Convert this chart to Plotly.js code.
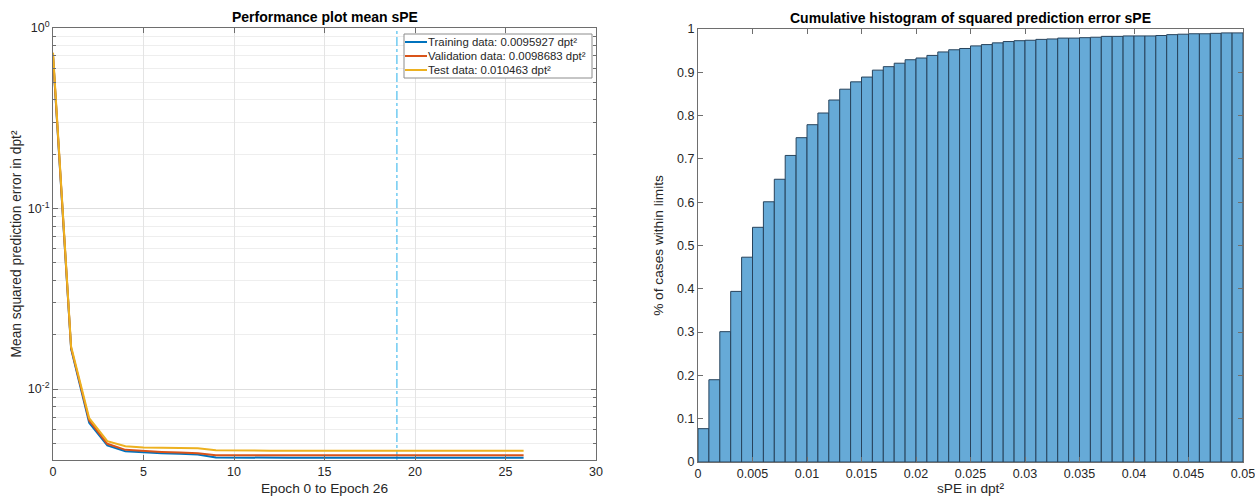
<!DOCTYPE html>
<html>
<head>
<meta charset="utf-8">
<script src="https://cdn.plot.ly/plotly-3.0.1.min.js"></script>
<style>html,body{margin:0;padding:0;background:#fff;}#chart{width:1255px;height:498px;}</style>
</head>
<body>
<div id="chart"></div>
<script>
// ---- Left panel data: performance per epoch ----
const epochs = [0,1,2,3,4,5,6,7,8,9,10,11,12,13,14,15,16,17,18,19,20,21,22,23,24,25,26];
const trainPerf = [0.70,0.0167,0.0065,0.00488,0.00453,0.00446,0.00442,0.00438,0.00434,0.00418,0.00417,0.00417,0.00417,0.00417,0.00417,0.00417,0.00417,0.00417,0.00417,0.00417,0.00417,0.00417,0.00417,0.00417,0.00417,0.00417,0.00417];
const valPerf = [0.71,0.0169,0.0067,0.00498,0.00461,0.00453,0.00449,0.00445,0.00441,0.00430,0.00430,0.00430,0.00430,0.00430,0.00430,0.00430,0.00430,0.00430,0.00430,0.00430,0.00430,0.00430,0.00430,0.00430,0.00430,0.00430,0.00430];
const testPerf = [0.73,0.0172,0.0069,0.00515,0.00483,0.00475,0.00473,0.00471,0.00470,0.00458,0.00456,0.00456,0.00456,0.00456,0.00456,0.00456,0.00456,0.00456,0.00456,0.00456,0.00456,0.00456,0.00456,0.00456,0.00456,0.00456,0.00456];
const seriesNames = ['Training data: 0.0095927 dpt²','Validation data: 0.0098683 dpt²','Test data: 0.010463 dpt²'];
const bestEpoch = 19;
const yTickVals = [1,0.1,0.01];
const yTickText = ['10<sup>0</sup>','10<sup>-1</sup>','10<sup>-2</sup>'];

// ---- Right panel data: cumulative histogram ----
const binStarts = [0,0.001,0.002,0.003,0.004,0.005,0.006,0.007,0.008,0.009,0.010,0.011,0.012,0.013,0.014,0.015,0.016,0.017,0.018,0.019,0.020,0.021,0.022,0.023,0.024,0.025,0.026,0.027,0.028,0.029,0.030,0.031,0.032,0.033,0.034,0.035,0.036,0.037,0.038,0.039,0.040,0.041,0.042,0.043,0.044,0.045,0.046,0.047,0.048,0.049];
const cumFrac = [0.077,0.190,0.301,0.394,0.473,0.542,0.601,0.653,0.708,0.749,0.779,0.806,0.836,0.861,0.878,0.889,0.905,0.913,0.921,0.929,0.933,0.939,0.947,0.952,0.955,0.961,0.964,0.968,0.971,0.973,0.974,0.976,0.977,0.979,0.979,0.980,0.981,0.983,0.983,0.984,0.984,0.984,0.985,0.987,0.988,0.989,0.989,0.990,0.991,0.991];
const histXTicks = [0,0.005,0.01,0.015,0.02,0.025,0.03,0.035,0.04,0.045,0.05];
const histXText = ['0','0.005','0.01','0.015','0.02','0.025','0.03','0.035','0.04','0.045','0.05'];
const histYTicks = [0,0.1,0.2,0.3,0.4,0.5,0.6,0.7,0.8,0.9,1];
const histYText = ['0','0.1','0.2','0.3','0.4','0.5','0.6','0.7','0.8','0.9','1'];

const yMin = 0.00405;
const minorVals = [];
[0.001,0.01,0.1].forEach(d => { for (let k = 2; k <= 9; k++) minorVals.push(k*d); });

const colors = ['#0072BD','#D95319','#EDB120'];
const font = 'Liberation Sans, Arial, Helvetica, sans-serif';
const txt = '#262626';
const axLine = '#6e6e6e';

const traces = [
  {x:[bestEpoch,bestEpoch], y:[yMin,1], mode:'lines', line:{color:'#4DBEEE', width:1.2, dash:'dashdot'}, showlegend:false, hoverinfo:'skip', xaxis:'x', yaxis:'y'},
  {x:epochs, y:trainPerf, name:seriesNames[0], mode:'lines', line:{color:colors[0], width:2}, xaxis:'x', yaxis:'y'},
  {x:epochs, y:valPerf, name:seriesNames[1], mode:'lines', line:{color:colors[1], width:2}, xaxis:'x', yaxis:'y'},
  {x:epochs, y:testPerf, name:seriesNames[2], mode:'lines', line:{color:colors[2], width:2}, xaxis:'x', yaxis:'y'},
  {type:'bar', x:binStarts, y:cumFrac, offset:0, width:0.001, marker:{color:'#66AAD7', line:{color:'#27435c', width:1}}, showlegend:false, xaxis:'x2', yaxis:'y2'}
];

// custom compact legend (MATLAB style) in paper pixel coordinates
const W = 1255, H = 498;
const px = v => v / W, py = v => (H - v) / H;
const legBox = {x0:404, x1:592, y0:34, y1:78};
const rowY = [42, 56, 70];
const shapes = [
  {type:'rect', xref:'paper', yref:'paper', x0:px(legBox.x0), x1:px(legBox.x1), y0:py(legBox.y1), y1:py(legBox.y0), line:{color:'#8c8c8c', width:1}, fillcolor:'#fff', layer:'above'}
];
const annotations = [
  {text:'<b>Performance plot mean sPE</b>', xref:'paper', yref:'paper', x:(53+596)/2/W, y:py(17), xanchor:'center', yanchor:'middle', showarrow:false, font:{size:14,color:'#000'}},
  {text:'<b>Cumulative histogram of squared prediction error sPE</b>', xref:'paper', yref:'paper', x:(698+1243)/2/W, y:py(18), xanchor:'center', yanchor:'middle', showarrow:false, font:{size:14,color:'#000'}}
];
seriesNames.forEach((n, i) => {
  shapes.push({type:'line', xref:'paper', yref:'paper', x0:px(405), x1:px(427), y0:py(rowY[i]), y1:py(rowY[i]), line:{color:colors[i], width:2}, layer:'above'});
  annotations.push({text:n, xref:'paper', yref:'paper', x:px(426), y:py(rowY[i]), xanchor:'left', yanchor:'middle', showarrow:false, font:{size:11.4,color:txt}});
});

const layout = {
  width:W, height:H,
  margin:{l:0,r:0,t:0,b:0},
  paper_bgcolor:'#fff', plot_bgcolor:'#fff',
  font:{family:font, color:txt, size:12},
  showlegend:false,
  xaxis:{domain:[53/W,596/W], range:[0,30], tickvals:[0,5,10,15,20,25,30], ticks:'inside', ticklen:5, tickcolor:axLine,
    showgrid:true, gridcolor:'#e4e4e4', zeroline:false, showline:true, linecolor:axLine, mirror:'ticks',
    tickfont:{size:12.5,color:txt}, title:{text:'Epoch 0 to Epoch 26', font:{size:13.7,color:txt}, standoff:5}, anchor:'y'},
  yaxis:{domain:[py(460),py(28)], type:'log', range:[Math.log10(yMin),0], tickvals:yTickVals, ticktext:yTickText,
    ticks:'inside', ticklen:5, tickcolor:axLine, showgrid:true, gridcolor:'#dedede', zeroline:false, showline:true, linecolor:axLine, mirror:'ticks',
    minor:{tickvals:minorVals, showgrid:true, gridcolor:'#eeeeee', ticks:'inside', ticklen:3, tickcolor:axLine},
    tickfont:{size:12.5,color:txt}, title:{text:'Mean squared prediction error in dpt²', font:{size:13.8,color:txt}, standoff:2}, anchor:'x'},
  xaxis2:{domain:[698/W,1243/W], range:[0,0.05], tickvals:histXTicks, ticktext:histXText, ticklabeloverflow:'allow', ticks:'inside', ticklen:5, tickcolor:axLine,
    showgrid:false, zeroline:false, showline:true, linecolor:axLine, mirror:'ticks',
    tickfont:{size:12.5,color:txt}, title:{text:'sPE in dpt²', font:{size:13.7,color:txt}, standoff:1}, anchor:'y2'},
  yaxis2:{domain:[py(462),py(29)], range:[0,1], tickvals:histYTicks, ticktext:histYText, ticks:'inside', ticklen:5, tickcolor:axLine,
    showgrid:false, zeroline:false, showline:true, linecolor:axLine, mirror:'ticks',
    tickfont:{size:12.5,color:txt}, title:{text:'% of cases within limits', font:{size:13.7,color:txt}, standoff:10}, anchor:'x2'},
  shapes:shapes,
  annotations:annotations
};

Plotly.newPlot('chart', traces, layout, {staticPlot:true, displayModeBar:false});
</script>
</body>
</html>
